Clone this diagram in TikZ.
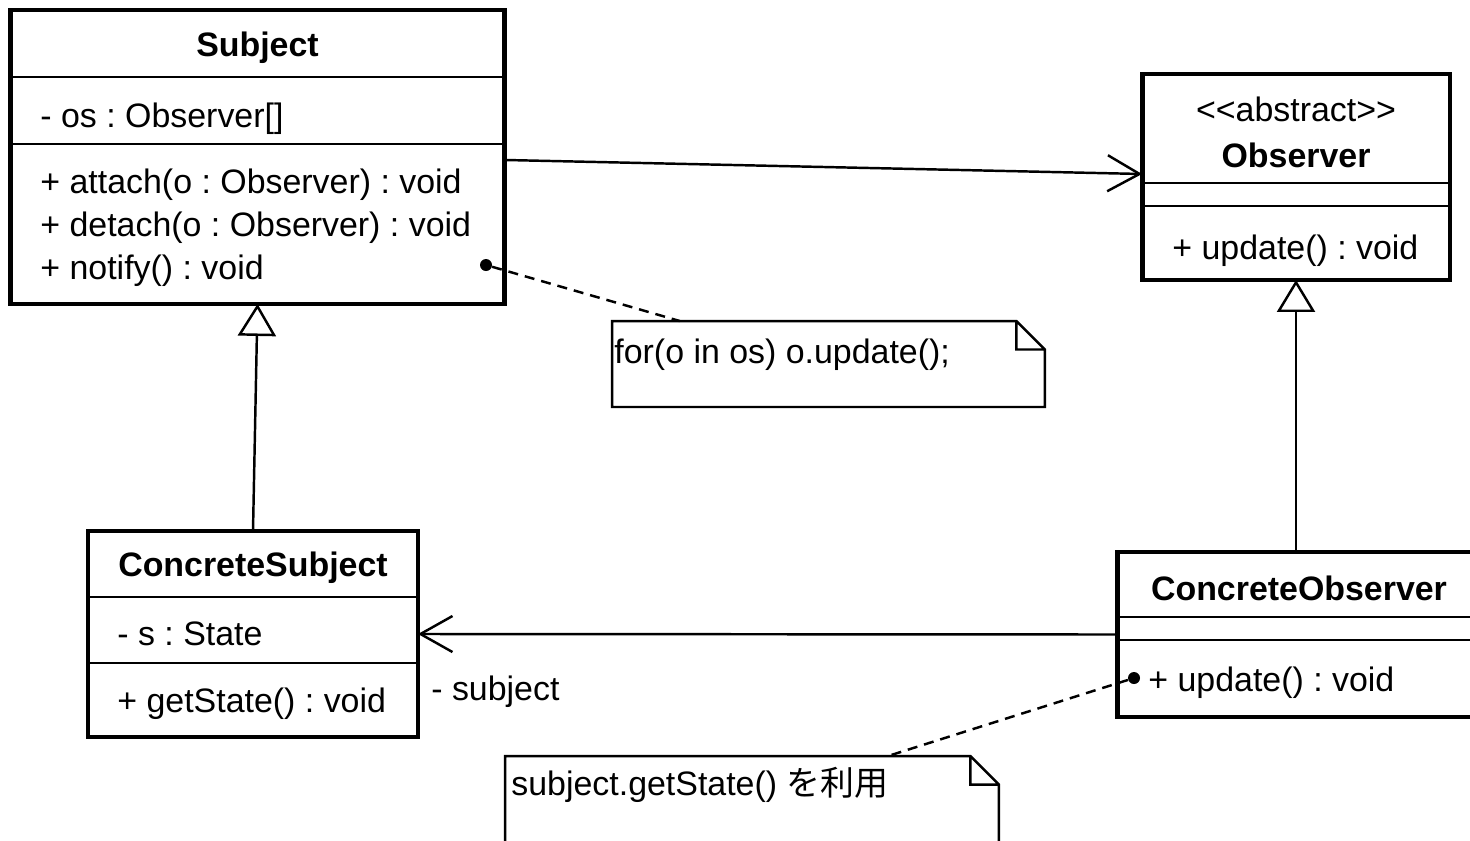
\documentclass[tikz,border=0pt]{standalone}
\usepackage{fontspec}
\setmainfont{Liberation Sans}
\newfontfamily\cjk{Noto Sans CJK JP}
\usepackage{tikz}
\usetikzlibrary{arrows.meta, positioning, fit}

\tikzset{
  part/.style={draw, rectangle, line width=1.5pt, inner sep=0pt, outer sep=0pt},
  member/.style={inner sep=0pt, align=left, yshift=-0.08cm},
  classbox/.style={draw, rectangle, line width=2.8pt, inner sep=0pt, outer sep=0pt},
  assoc/.style={-{Straight Barb[length=0.64cm, width=0.72cm]}, line width=1.4pt},
  inherit/.style={-{Triangle[open, length=0.64cm, width=0.76cm]}, line width=1.4pt},
  noteline/.style={line width=1.4pt, dash pattern=on 0.2cm off 0.14cm},
  dot/.style={circle, fill, inner sep=0pt, minimum size=0.24cm},
  notebox/.style={rectangle, inner sep=0pt, outer sep=0pt},
  foldline/.style={line width=1.4pt, line join=miter}
}

\begin{document}
\begin{tikzpicture}[x=0.02cm, y=-0.02cm, font=\fontsize{19.3}{24.4}\selectfont\frenchspacing]
    \path[use as bounding box, fill=white] (0,0) rectangle (1470,840);
    \clip (0,0) rectangle (1470,840);

    % Subject
    \node[part, minimum width=9.9cm, minimum height=1.34cm] (subjhead) at (257.5,43.5) {};
    \node[part, minimum width=9.9cm, minimum height=1.34cm, below=0pt of subjhead] (subjattr) {};
    \node[part, minimum width=9.9cm, minimum height=3.2cm, below=0pt of subjattr] (subjops) {};
    \node[member, align=center] (subjname) at (subjhead) {\textbf{Subject}};
    \node[member, right=0.6cm of subjattr.west, yshift=-0.08cm] (subjos) {- os : Observer[]};
    \node[member, right=0.6cm of subjops.west] (subjmeth) {+ attach(o : Observer) : void\\+ detach(o : Observer) : void\\+ notify() : void};
    \node[classbox, fit=(subjhead)(subjops)] (subject) {};

    % Observer
    \node[part, minimum width=6.16cm, minimum height=2.18cm] (obshead) at (1296,128.5) {};
    \node[part, minimum width=6.16cm, minimum height=0.46cm, below=0pt of obshead] (obsattr) {};
    \node[part, minimum width=6.16cm, minimum height=1.48cm, below=0pt of obsattr] (obsops) {};
    \node[member, align=center] (obsname) at (obshead) {<\kern0pt<abstract>\kern0pt>\\[2.2pt]\textbf{Observer}};
    \node[member, right=0.6cm of obsops.west, yshift=-0.08cm] (obsmeth) {+ update() : void};
    \node[classbox, fit=(obshead)(obsops)] (observer) {};

    % ConcreteSubject
    \node[part, minimum width=6.6cm, minimum height=1.32cm] (cshead) at (253,564) {};
    \node[part, minimum width=6.6cm, minimum height=1.32cm, below=0pt of cshead] (csattr) {};
    \node[part, minimum width=6.6cm, minimum height=1.48cm, below=0pt of csattr] (csops) {};
    \node[member, align=center] (csname) at (cshead) {\textbf{ConcreteSubject}};
    \node[member, right=0.58cm of csattr.west] (csstate) {- s : State};
    \node[member, right=0.58cm of csops.west] (csmeth) {+ getState() : void};
    \node[classbox, fit=(cshead)(csops)] (csubject) {};

    % ConcreteObserver
    \node[part, minimum width=7.28cm, minimum height=1.3cm] (cohead) at (1299,584.5) {};
    \node[part, minimum width=7.28cm, minimum height=0.46cm, below=0pt of cohead] (coattr) {};
    \node[part, minimum width=7.28cm, minimum height=1.54cm, below=0pt of coattr] (coops) {};
    \node[member, align=center] (coname) at (cohead) {\textbf{ConcreteObserver}};
    \node[member, right=0.62cm of coops.west] (cometh) {+ update() : void};
    \node[classbox, fit=(cohead)(coops)] (cobserver) {};

    % notes
    \node[notebox, minimum width=8.66cm, minimum height=1.72cm] (fornote) at (828.5,364) {};
    \node[notebox, minimum width=9.88cm, minimum height=2.6cm] (statenote) at (752,821) {};
    \foreach \n in {fornote, statenote}
        \draw[foldline] (\n.north west) -- ([xshift=-0.57cm]\n.north east) -- ([yshift=-0.57cm]\n.north east)
            -- (\n.south east) -- (\n.south west) -- cycle
            ([xshift=-0.57cm]\n.north east) |- ([yshift=-0.57cm]\n.north east);
    \node[member, anchor=base west] (fortext) at ([xshift=0.04cm, yshift=-0.76cm]fornote.north west) {for(o in os) o.update();};
    \node[member, anchor=base west] (statetext) at ([xshift=0.12cm, yshift=-0.70cm]statenote.north west) {subject.getState() {\cjk を利用}};

    % connectors
    \draw[assoc] ([yshift=-0.06cm]subject.east) -- ([yshift=0.06cm]observer.west);
    \draw[inherit] (csubject.north) -- (subject.south);
    \draw[inherit] (observer.south |- cobserver.north) -- (observer.south);
    \draw[assoc] (cobserver.west) -- (csubject.east);
    \node[member, anchor=west] (subjrole) at (431,688) {- subject};

    \node[dot] (subjdot) at (486,265) {};
    \node[dot] (codot) at (1134,678) {};
    \draw[noteline] (subjdot) -- (fornote);
    \draw[noteline] (codot) -- ([xshift=2.72cm]statenote.north);
\end{tikzpicture}
\end{document}
